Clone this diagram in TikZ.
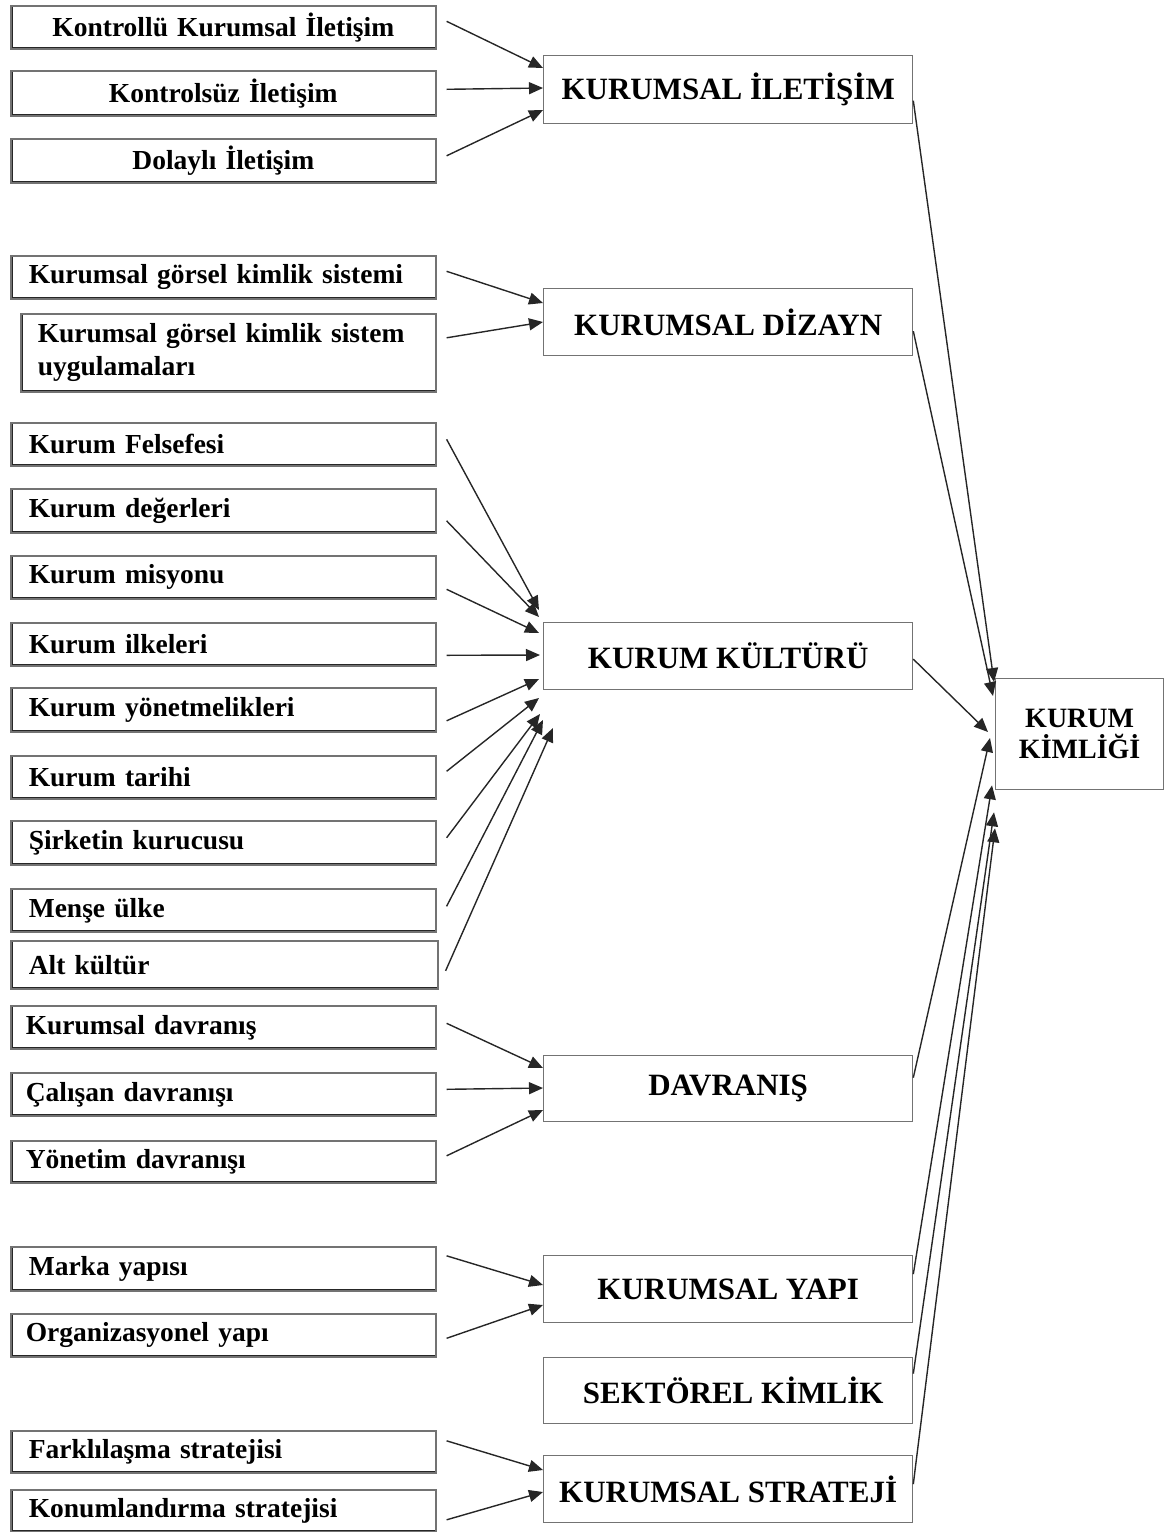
\documentclass[tikz,border=0pt]{standalone}
\usepackage{fontspec}
\setmainfont{Liberation Serif}
\usetikzlibrary{arrows.meta,calc}

\tikzset{
  edge/.style={draw=black!85, line width=1.4pt, -{Triangle[length=14pt,width=12pt]}},
  srcbox/.style={draw=black!55, line width=1.6pt, fill=white, inner ysep=0pt,
    anchor=north west, font=\fontsize{27.5}{33}\selectfont\bfseries,
    path picture={\draw[black!85, line width=3.4pt]
      (path picture bounding box.north west) -- (path picture bounding box.south west)
      -- (path picture bounding box.south east);}},
  lsrc/.style={srcbox, align=left, inner xsep=18pt, text width=#1},
  csrc/.style={srcbox, align=center, inner xsep=0pt, text width=#1},
  midbox/.style={draw=black!55, line width=1.3pt, fill=white, anchor=north west,
    minimum width=369pt, inner sep=0pt, font=\fontsize{31}{35}\selectfont\bfseries,
    path picture={\draw[black!80, line width=2pt]
      (path picture bounding box.north east) -- (path picture bounding box.south east);}},
  idbox/.style={draw=black!55, line width=1.3pt, fill=white, anchor=north west,
    minimum width=168pt, minimum height=111pt, inner sep=0pt, align=center,
    font=\fontsize{28}{31}\selectfont\bfseries,
    path picture={\draw[black!80, line width=2pt]
      (path picture bounding box.north east) -- (path picture bounding box.south east);}}
}

\begin{document}
\begin{tikzpicture}[x=1pt,y=-1pt]
\useasboundingbox (0,0) rectangle (1170,1532);

% ---- source boxes (left column)
\node[csrc=425pt, minimum height=43pt] (l1) at (10,5) {Kontrollü Kurumsal İletişim};
\node[csrc=425pt, minimum height=45pt] (l2) at (10,70) {Kontrolsüz İletişim};
\node[csrc=425pt, minimum height=44pt] (l3) at (10,138) {Dolaylı İletişim};

\node[lsrc=389pt, minimum height=43pt] (l4) at (10,255) {Kurumsal görsel kimlik sistemi};
\node[lsrc=381pt, inner xsep=17pt, minimum height=78pt] (l5) at (20,313)
  {Kurumsal görsel kimlik sistem\\uygulamaları};

\node[lsrc=389pt, minimum height=43pt] (l6) at (10,422) {Kurum Felsefesi};
\node[lsrc=389pt, minimum height=44pt] (l7) at (10,488) {Kurum değerleri};
\node[lsrc=389pt, minimum height=43pt] (l8) at (10,555) {Kurum misyonu};
\node[lsrc=389pt, minimum height=43pt] (l9) at (10,622) {Kurum ilkeleri};
\node[lsrc=389pt, minimum height=44pt] (l10) at (10,687) {Kurum yönetmelikleri};
\node[lsrc=389pt, minimum height=43pt] (l11) at (10,755) {Kurum tarihi};
\node[lsrc=389pt, minimum height=44pt] (l12) at (10,820) {Şirketin kurucusu};
\node[lsrc=389pt, minimum height=43pt] (l13) at (10,888) {Menşe ülke};
\node[lsrc=391pt, minimum height=48pt] (l14) at (10,940) {Alt kültür};

\node[lsrc=395pt, inner xsep=15pt, minimum height=43pt] (l15) at (10,1005) {Kurumsal davranış};
\node[lsrc=395pt, inner xsep=15pt, minimum height=43pt] (l16) at (10,1072) {Çalışan davranışı};
\node[lsrc=395pt, inner xsep=15pt, minimum height=42pt] (l17) at (10,1140) {Yönetim davranışı};

\node[lsrc=389pt, minimum height=44pt] (l18) at (10,1246) {Marka yapısı};
\node[lsrc=395pt, inner xsep=15pt, minimum height=43pt] (l19) at (10,1313) {Organizasyonel yapı};

\node[lsrc=389pt, minimum height=42pt] (l20) at (10,1430) {Farklılaşma stratejisi};
\node[lsrc=389pt, minimum height=42pt] (l21) at (10,1489) {Konumlandırma stratejisi};

% ---- component boxes (middle column)
\node[midbox, minimum height=68pt] (m1) at (543,55) {KURUMSAL İLETİŞİM};
\node[midbox, minimum height=67pt] (m2) at (543,288) {KURUMSAL DİZAYN};
\node[midbox, minimum height=67pt] (m3) at (543,622) {KURUM KÜLTÜRÜ};
\node[midbox, minimum height=66pt] (m4) at (543,1055) {DAVRANIŞ};
\node[midbox, minimum height=67pt] (m5) at (543,1255) {KURUMSAL YAPI};
\node[midbox, minimum height=66pt] (m6) at (543,1357) {\hspace*{10pt}SEKTÖREL KİMLİK};
\node[midbox, minimum height=67pt] (m7) at (543,1455) {KURUMSAL STRATEJİ};

% ---- corporate identity (right)
\node[idbox] (ki) at (995,678) {KURUM\\KİMLİĞİ};

% ---- sources -> components
\draw[edge] ([xshift=10pt,yshift=6pt]l1.east) -- ([yshift=-13pt]m1.north west);
\draw[edge] ([xshift=10pt,yshift=4pt]l2.east) -- ([yshift=-33pt]m1.north west);
\draw[edge] ([xshift=10pt,yshift=5pt]l3.east) -- ([yshift=-55pt]m1.north west);

\draw[edge] ([xshift=10pt,yshift=6pt]l4.east) -- ([yshift=-15pt]m2.north west);
\draw[edge] ([xshift=10pt,yshift=15pt]l5.east) -- ([yshift=-34pt]m2.north west);

\draw[edge] ([xshift=10pt,yshift=5pt]l6.east) -- ([xshift=-4pt,yshift=12pt]m3.north west);
\draw[edge] ([xshift=10pt,yshift=-10pt]l7.east) -- ([xshift=-4pt,yshift=5pt]m3.north west);
\draw[edge] ([xshift=10pt,yshift=-12pt]l8.east) -- ([xshift=-4pt,yshift=-11pt]m3.north west);
\draw[edge] ([xshift=10pt,yshift=-11pt]l9.east) -- ([xshift=-3pt,yshift=-33pt]m3.north west);
\draw[edge] ([xshift=10pt,yshift=-11pt]l10.east) -- ([xshift=-4pt,yshift=-57pt]m3.north west);
\draw[edge] ([xshift=10pt,yshift=6pt]l11.east) -- ([xshift=-4pt,yshift=-76pt]m3.north west);
\draw[edge] ([xshift=10pt,yshift=5pt]l12.east) -- ([xshift=-3pt,yshift=-92pt]m3.north west);
\draw[edge] ([xshift=10pt,yshift=4pt]l13.east) -- ([xshift=0pt,yshift=-98pt]m3.north west);
\draw[edge] ([xshift=7pt,yshift=-6pt]l14.east) -- ([xshift=10pt,yshift=-106pt]m3.north west);

\draw[edge] ([xshift=10pt,yshift=4pt]l15.east) -- ([yshift=-13pt]m4.north west);
\draw[edge] ([xshift=10pt,yshift=5pt]l16.east) -- ([yshift=-33pt]m4.north west);
\draw[edge] ([xshift=10pt,yshift=6pt]l17.east) -- ([yshift=-55pt]m4.north west);

\draw[edge] ([xshift=10pt,yshift=13pt]l18.east) -- ([yshift=-30pt]m5.north west);
\draw[edge] ([xshift=10pt,yshift=-3pt]l19.east) -- ([yshift=-50pt]m5.north west);

\draw[edge] ([xshift=10pt,yshift=11pt]l20.east) -- ([yshift=-15pt]m7.north west);
\draw[edge] ([xshift=10pt,yshift=-9pt]l21.east) -- ([yshift=-37pt]m7.north west);

% ---- components -> corporate identity
\draw[edge] ([yshift=-11pt]m1.east) -- ([xshift=-1pt,yshift=-4pt]ki.north west);
\draw[edge] ([yshift=-9pt]m2.east)  -- ([xshift=-2pt,yshift=-18pt]ki.north west);
\draw[edge] ([yshift=-3pt]m3.east)  -- ([xshift=-7pt,yshift=-54pt]ki.north west);
\draw[edge] ([yshift=11pt]m4.east)  -- ([xshift=-5pt,yshift=-60pt]ki.north west);
\draw[edge] ([yshift=15pt]m5.east)  -- ([xshift=-3pt,yshift=5pt]ki.south west);
\draw[edge] ([yshift=17pt]m6.east)  -- ([xshift=-1pt,yshift=-22pt]ki.south west);
\draw[edge] ([yshift=5pt]m7.east)   -- ([xshift=0pt,yshift=-38pt]ki.south west);
\end{tikzpicture}
\end{document}
